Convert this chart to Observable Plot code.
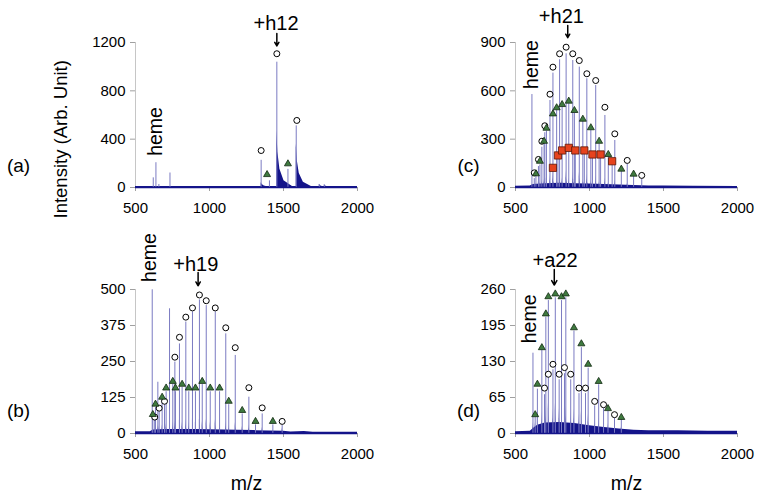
<!DOCTYPE html>
<html><head><meta charset="utf-8">
<script src="https://cdn.jsdelivr.net/npm/d3@7"></script>
<script src="https://cdn.jsdelivr.net/npm/@observablehq/plot@0.6"></script>
<style>
body{margin:0;background:#fff;}
#chart{position:relative;width:764px;height:499px;background:#fff;overflow:hidden;}
#chart svg{position:absolute;overflow:visible;}
</style></head><body><div id="chart"></div>
<script>
// ---------- shared ----------
const xTicks = [500, 1000, 1500, 2000];

// ---------- panel (a) ----------
const aYTicks = [0, 400, 800, 1200];
const aPeakMz = [620, 638, 658, 733, 1349, 1405, 1455, 1530, 1586, 1742, 1776];
const aPeakH  = [80, 205, 25, 120, 225, 55, 1037, 150, 510, 25, 22];
const aFootH  = [0, 0, 0, 0, 40, 10, 470, 30, 360, 25, 20];
const aCircMz = [1349, 1455, 1590];
const aCircV  = [306, 1107, 555];
const aTriMz  = [1389, 1530];
const aTriV   = [107, 196];
const aEnvMz  = [500, 2000];
const aEnvV   = [8, 8];

// ---------- panel (b) ----------
const bYTicks = [0, 125, 250, 375, 500];
const bPeakMz = [613,617,630,635,651,660,680,696,707,730,752,766,770,797,815,840,860,885,905,932,951,978,1005,1039,1068,1110,1130,1174,1221,1266,1311,1356,1428,1491];
const bPeakH  = [499,55,45,90,178,75,115,100,145,433,170,248,145,311,160,387,145,422,145,464,170,444,145,422,145,346,100,271,68,126,30,68,30,28];
const bFootH  = [10,10,15,20,30,25,30,30,35,40,40,45,35,48,40,50,40,50,40,50,42,50,40,48,38,42,30,38,25,30,15,22,12,20];
const bCircMz = [630,660,696,766,797,840,885,932,978,1039,1110,1174,1266,1356,1491];
const bCircV  = [57,88,112,265,334,404,436,481,461,436,367,298,159,89,42];
const bTriMz  = [617,635,680,707,752,770,815,860,905,951,1005,1068,1130,1221,1311,1428];
const bTriV   = [66,102,126,158,181,158,171,158,158,181,158,158,112,80,42,42];
const bEnvMz  = [500,600,620,700,900,1100,1300,1500,1550,1640,1700,2000];
const bEnvV   = [6,6,12,14,14,12,10,8,5,7,4,4];

// ---------- panel (c) ----------
const cYTicks = [0, 300, 600, 900];
const cPeakMz = [611,627,638,655,665,678,693,698,709,733,753,778,787,798,815,842,860,887,898,904,931,955,965,982,1009,1020,1042,1065,1075,1104,1127,1153,1171,1215,1255,1298,1353];
const cPeakH  = [577,55,70,130,140,250,265,340,350,540,710,480,190,793,500,830,520,788,460,220,747,410,220,675,355,195,633,270,195,447,190,150,292,100,143,70,54];
const cFootH  = [20,20,25,35,35,50,50,60,60,80,95,60,35,100,60,105,60,100,55,35,95,50,35,85,45,30,75,35,28,60,28,22,45,18,25,12,10];
const cCircMz = [627,655,678,698,733,753,798,842,887,931,982,1042,1104,1171,1255,1353];
const cCircV  = [91,174,287,383,579,747,830,871,830,788,706,664,498,333,168,75];
const cTriMz  = [638,665,693,709,753,778,815,860,898,955,1009,1065,1127,1215,1298];
const cTriV   = [85,163,287,368,457,495,515,536,478,424,371,287,205,114,83];
const cSqMz   = [753,787,815,860,904,965,1020,1075,1153];
const cSqV    = [122,199,230,246,230,230,205,205,163];
const cEnvMz  = [500,600,620,700,800,900,1000,1100,1200,1300,1400,1500,1700,2000];
const cEnvV   = [8,10,18,24,26,24,22,18,15,12,10,9,7,6];

// ---------- panel (d) ----------
const dYTicks = [0, 65, 130, 195, 260];
const dPeakMz = [618,633,648,678,696,705,722,753,769,795,811,831,840,873,895,929,945,973,991,1035,1062,1095,1125,1169,1215];
const dPeakH  = [145,30,80,150,70,210,240,115,245,97,240,108,245,97,185,72,155,72,118,50,88,45,40,28,25];
const dFootH  = [20,20,30,40,35,50,55,45,55,45,55,45,50,40,45,35,40,32,35,25,28,20,18,14,12];
const dCircMz = [696,722,753,795,831,873,929,973,1035,1095,1169];
const dCircV  = [82,107,125,107,119,107,82,82,58,52,34];
const dTriMz  = [633,648,678,705,722,769,811,840,895,945,991,1062,1125,1215];
const dTriV   = [34,89,155,216,247,252,247,252,191,162,125,94,45,29];
const dEnvMz  = [500,600,625,650,700,800,900,1000,1100,1200,1300,1400,1600,1800,2000];
const dEnvV   = [3,4,10,15,19,20,18,14,11,8,6,5,5,4,4];

// annotations (data units: m/z, intensity)
const annotations = {
  a: {text: "+h12", mz: 1450, v: 1360, arrowMz: 1455, from: 1275, to: 1172},
  b: {text: "+h19", mz: 907, v: 587, arrowMz: 923, from: 559, to: 513},
  c: {text: "+h21", mz: 810, v: 1063, arrowMz: 853, from: 1005, to: 930},
  d: {text: "+a22", mz: 767, v: 313, arrowMz: 762, from: 296, to: 268}
};
const hemeLabels = {
  a: {mz: 636, v: 464}, b: {mz: 595, v: 611}, c: {mz: 607, v: 763}, d: {mz: 593, v: 207}
};
const panelNames = {a: "(a)", b: "(b)", c: "(c)", d: "(d)"};
const yLabel = "Intensity (Arb. Unit)";
const xLabel = "m/z";

// ---------- styles ----------
const NAVY = "#14148a";
const SPIKE = "#7b7bc2";
const GREEN = "#3f7a3f";
const RED = "#e6431e";
const FONT = "'Liberation Sans', Arial, Helvetica, sans-serif";

function buildTails(mzs, feet, tail) {
  const rows = [];
  const shape = [[0, 1], [0.06, 0.62], [0.18, 0.32], [0.42, 0.12], [1, 0]];
  mzs.forEach((mz, i) => {
    const f = feet[i];
    if (!f) return;
    for (const [dx, k] of shape) rows.push({id: i, mz: mz + dx * tail, v: f * k});
  });
  return rows;
}
const pts = (xs, ys) => xs.map((mz, i) => ({mz, v: ys[i]}));
const plain = d => String(d);

function drawPanel(cfg) {
  const marks = [
    Plot.ruleY([0], {stroke: "#b8b8b8"}),
    Plot.ruleX([500], {y1: 0, y2: cfg.yTicks[cfg.yTicks.length - 1], stroke: "#c6c6c6"}),
    Plot.axisY(cfg.yTicks, {anchor: "left", tickSize: 5, tickPadding: 5, fontSize: 15, stroke: "#a0a0a0", fill: "black", label: null, tickFormat: plain}),
    Plot.axisX(xTicks, {anchor: "bottom", tickSize: 4, tickPadding: 11, fontSize: 15, stroke: "#a0a0a0", fill: "black", label: null, tickFormat: plain}),
    Plot.areaY(pts(cfg.envMz, cfg.envV), {x: "mz", y: "v", fill: NAVY}),
    Plot.areaY(buildTails(cfg.peakMz, cfg.footH, cfg.tail), {x: "mz", y: "v", z: "id", fill: NAVY}),
    Plot.ruleX(pts(cfg.peakMz, cfg.peakH), {x: "mz", y1: 0, y2: "v", stroke: SPIKE, strokeWidth: 1}),
    Plot.ruleY([0], {x1: 500, x2: 2000, stroke: NAVY, strokeWidth: 1.4}),
    Plot.dot(pts(cfg.circMz, cfg.circV), {x: "mz", y: "v", r: 3, fill: "white", stroke: "black", strokeWidth: 1}),
    Plot.dot(pts(cfg.triMz, cfg.triV), {x: "mz", y: "v", symbol: "triangle", r: 2.6, fill: GREEN, stroke: "#122a12", strokeWidth: 0.8})
  ];
  if (cfg.sqMz) marks.push(Plot.dot(pts(cfg.sqMz, cfg.sqV), {x: "mz", y: "v", symbol: "square", r: 4.1, fill: RED, stroke: "#5a1606", strokeWidth: 0.8}));
  const ann = cfg.ann;
  marks.push(
    Plot.text([ann], {x: "mz", y: "v", text: "text", fontSize: 20, fill: "black", lineAnchor: "middle"}),
    Plot.arrow([ann], {x1: "arrowMz", x2: "arrowMz", y1: "from", y2: "to", stroke: "black", strokeWidth: 1.5, headLength: 7, headAngle: 60}),
    Plot.text([cfg.heme], {x: "mz", y: "v", text: () => "heme", rotate: -90, fontSize: 19.5, fill: "black", lineAnchor: "middle"}),
    Plot.text([cfg.name], {text: d => d, frameAnchor: "top-left", dx: cfg.nameDx, dy: cfg.nameDy, fontSize: 19, fill: "black", lineAnchor: "middle", textAnchor: "middle"})
  );
  if (cfg.extra) marks.push(...cfg.extra);
  const svg = Plot.plot({
    width: cfg.width, height: cfg.height,
    marginLeft: 135, marginRight: cfg.width - 135 - 222,
    marginTop: cfg.mt, marginBottom: cfg.mb,
    x: {domain: [500, 2000], label: null},
    y: {domain: [0, cfg.yTicks[cfg.yTicks.length - 1]], label: null},
    style: {background: "transparent", overflow: "visible", fontFamily: FONT, fontSize: "15px", color: "black"},
    marks
  });
  svg.style.left = cfg.left + "px";
  svg.style.top = cfg.top + "px";
  return svg;
}

const chart = document.getElementById("chart");

const panelB = drawPanel({
  left: 0, top: 225, width: 380, height: 274, mt: 64, mb: 66, yTicks: bYTicks,
  peakMz: bPeakMz, peakH: bPeakH, footH: bFootH, tail: 30,
  circMz: bCircMz, circV: bCircV, triMz: bTriMz, triV: bTriV,
  envMz: bEnvMz, envV: bEnvV, ann: annotations.b, heme: hemeLabels.b,
  name: panelNames.b, nameDx: -117, nameDy: 121,
  extra: [Plot.text([xLabel], {text: d => d, frameAnchor: "bottom", dy: 50, fontSize: 19.5, fill: "black", lineAnchor: "middle"})]
});
const panelD = drawPanel({
  left: 380, top: 225, width: 384, height: 274, mt: 64, mb: 66, yTicks: dYTicks,
  peakMz: dPeakMz, peakH: dPeakH, footH: dFootH, tail: 30,
  circMz: dCircMz, circV: dCircV, triMz: dTriMz, triV: dTriV,
  envMz: dEnvMz, envV: dEnvV, ann: annotations.d, heme: hemeLabels.d,
  name: panelNames.d, nameDx: -47, nameDy: 121,
  extra: [Plot.text([xLabel], {text: d => d, frameAnchor: "bottom", dy: 50, fontSize: 19.5, fill: "black", lineAnchor: "middle"})]
});
const panelC = drawPanel({
  left: 380, top: 0, width: 384, height: 225, mt: 42, mb: 38, yTicks: cYTicks,
  peakMz: cPeakMz, peakH: cPeakH, footH: cFootH, tail: 28,
  circMz: cCircMz, circV: cCircV, triMz: cTriMz, triV: cTriV, sqMz: cSqMz, sqV: cSqV,
  envMz: cEnvMz, envV: cEnvV, ann: annotations.c, heme: hemeLabels.c,
  name: panelNames.c, nameDx: -47, nameDy: 123
});
const panelA = drawPanel({
  left: 0, top: 0, width: 380, height: 225, mt: 42, mb: 38, yTicks: aYTicks,
  peakMz: aPeakMz, peakH: aPeakH, footH: aFootH, tail: 115,
  circMz: aCircMz, circV: aCircV, triMz: aTriMz, triV: aTriV,
  envMz: aEnvMz, envV: aEnvV, ann: annotations.a, heme: hemeLabels.a,
  name: panelNames.a, nameDx: -117, nameDy: 123,
  extra: [Plot.text([yLabel], {text: d => d, frameAnchor: "top-left", dx: -74, dy: 176, rotate: -90, fontSize: 18.5, fill: "black", lineAnchor: "middle"})]
});
chart.append(panelB, panelD, panelC, panelA);
</script></body></html>
